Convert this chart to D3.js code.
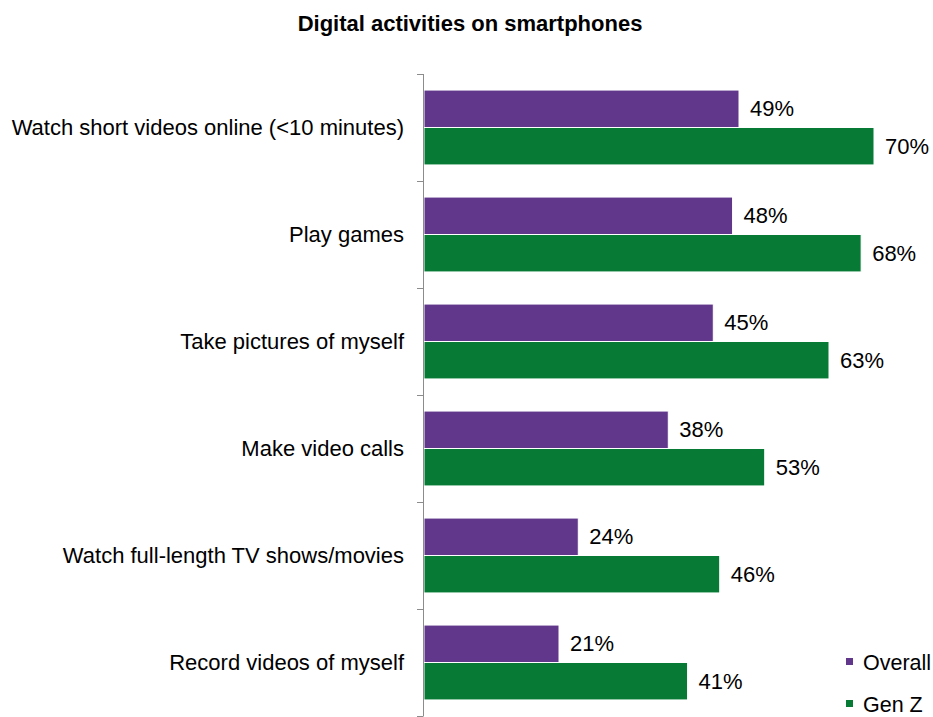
<!DOCTYPE html>
<html>
<head>
<meta charset="utf-8">
<script src="https://cdn.jsdelivr.net/npm/d3@7"></script>
<style>
  html, body { margin: 0; padding: 0; background: #fff; }
  svg { display: block; font-family: "Liberation Sans", Arial, sans-serif; }
</style>
</head>
<body>
<svg id="chart" width="933" height="717"></svg>
<script>
// Share of respondents doing each activity on their smartphone
const categories = [
  "Watch short videos online (<10 minutes)",
  "Play games",
  "Take pictures of myself",
  "Make video calls",
  "Watch full-length TV shows/movies",
  "Record videos of myself"
];
const seriesNames = ["Overall", "Gen Z"];
const overallValues = [49, 48, 45, 38, 24, 21];
const genZValues = [70, 68, 63, 53, 46, 41];
const seriesColors = ["#60378b", "#077a36"];
const chartTitle = "Digital activities on smartphones";

const rows = categories.map((c, i) => ({
  category: c,
  values: [
    { series: seriesNames[0], value: overallValues[i] },
    { series: seriesNames[1], value: genZValues[i] }
  ]
}));

const svg = d3.select("#chart");
const plotLeft = 424, plotTop = 74, plotBottom = 716;
const fontSize = 22;

const x = d3.scaleLinear().domain([0, 70]).range([plotLeft, 874]);
const y = d3.scaleBand().domain(categories).range([plotTop, plotBottom])
  .paddingInner(0.3).paddingOuter(0.15);
const ySub = d3.scaleBand().domain(seriesNames).range([0, y.bandwidth()]);
const color = d3.scaleOrdinal().domain(seriesNames).range(seriesColors);

// Title
svg.append("text")
  .attr("x", 470).attr("y", 31)
  .attr("text-anchor", "middle")
  .attr("font-size", 22).attr("font-weight", "bold")
  .attr("fill", "#000")
  .text(chartTitle);

// Bars
const groups = svg.selectAll("g.row").data(rows).join("g")
  .attr("class", "row")
  .attr("transform", d => `translate(0,${y(d.category)})`);

groups.selectAll("rect").data(d => d.values).join("rect")
  .attr("x", x(0))
  .attr("y", d => ySub(d.series))
  .attr("width", d => x(d.value) - x(0))
  .attr("height", ySub.bandwidth())
  .attr("fill", d => color(d.series))
  .attr("stroke", "#fff")
  .attr("stroke-width", 1);

groups.selectAll("text.val").data(d => d.values).join("text")
  .attr("class", "val")
  .attr("x", d => x(d.value) + 11)
  .attr("y", d => ySub(d.series) + ySub.bandwidth() / 2)
  .attr("dy", "0.35em")
  .attr("font-size", fontSize)
  .attr("fill", "#000")
  .text(d => d.value + "%");

// Category axis: vertical line with ticks at band boundaries
const step = y.step();
const boundaries = categories.map(c => y(c) - step * y.paddingInner() / 2)
  .concat([y(categories[categories.length - 1]) + y.bandwidth() + step * y.paddingInner() / 2]);

const axisG = svg.append("g");
axisG.append("line")
  .attr("x1", plotLeft - 0.5).attr("x2", plotLeft - 0.5)
  .attr("y1", plotTop).attr("y2", plotBottom)
  .attr("stroke", "#8c8c8c").attr("stroke-width", 1);
axisG.selectAll("line.tick").data(boundaries).join("line")
  .attr("class", "tick")
  .attr("x1", plotLeft - 7).attr("x2", plotLeft - 0.5)
  .attr("y1", d => Math.round(d) + 0.5).attr("y2", d => Math.round(d) + 0.5)
  .attr("stroke", "#8c8c8c").attr("stroke-width", 1);

axisG.selectAll("text.cat").data(categories).join("text")
  .attr("class", "cat")
  .attr("x", 404)
  .attr("y", d => y(d) + y.bandwidth() / 2)
  .attr("dy", "0.35em")
  .attr("text-anchor", "end")
  .attr("font-size", fontSize)
  .attr("fill", "#000")
  .text(d => d);

// Legend
const legend = svg.append("g").selectAll("g").data(seriesNames).join("g")
  .attr("transform", (d, i) => `translate(846,${662 + i * 42})`);
legend.append("rect")
  .attr("x", 0).attr("y", -4).attr("width", 7).attr("height", 7)
  .attr("fill", d => color(d));
legend.append("text")
  .attr("x", 17).attr("y", 0).attr("dy", "0.35em")
  .attr("font-size", 21.5).attr("fill", "#000")
  .text(d => d);
</script>
</body>
</html>
